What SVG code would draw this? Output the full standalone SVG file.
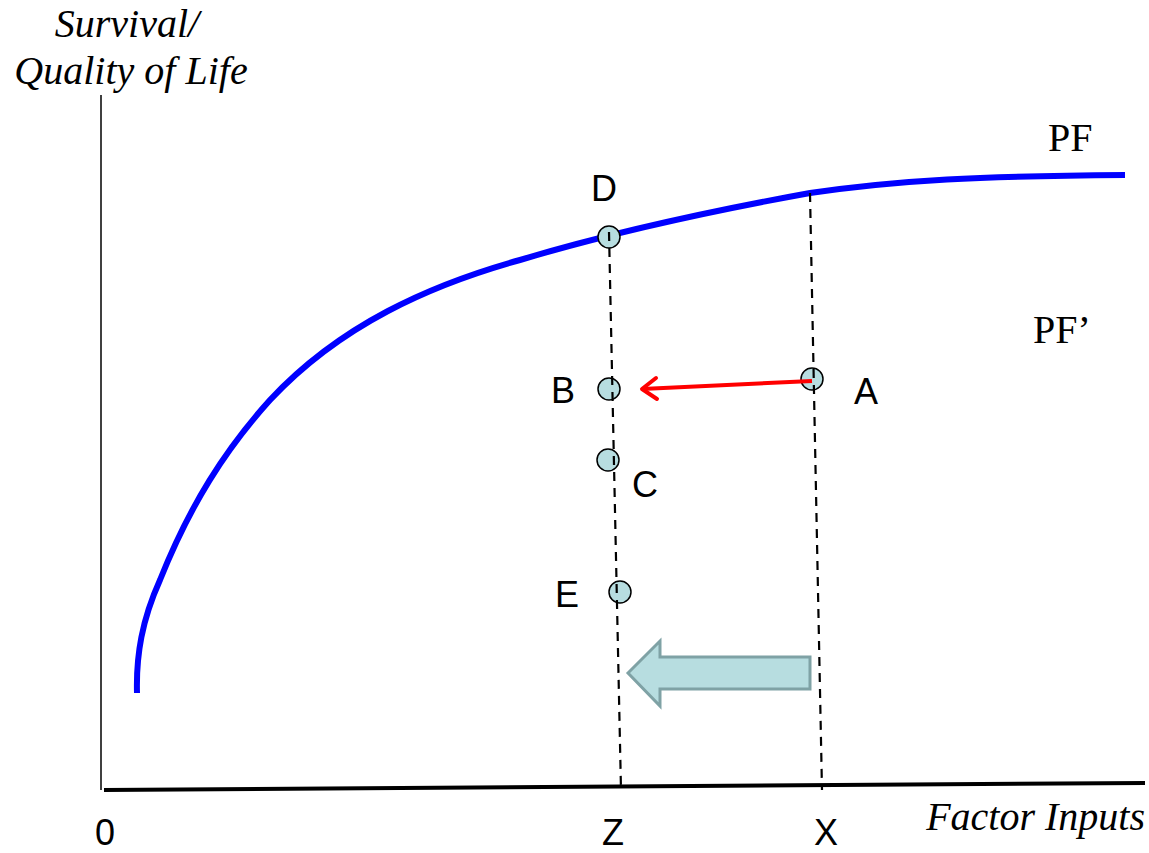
<svg xmlns="http://www.w3.org/2000/svg" width="1149" height="853" viewBox="0 0 1149 853">
<style>
.lbl{font-family:"Liberation Sans",Arial,sans-serif;font-size:36px;fill:#000}
.ser{font-family:"Liberation Serif","Times New Roman",serif;font-size:40px;fill:#000}
.it{font-family:"Liberation Serif","Times New Roman",serif;font-style:italic;font-size:40px;fill:#000}
.dash{stroke:#000;stroke-width:2.2;stroke-dasharray:9,7;fill:none}
.pt{fill:#b7dde0;stroke:#000;stroke-width:1.5}
</style>
<rect width="1149" height="853" fill="#fff"/>
<g id="axes">
<line x1="101" y1="95" x2="101" y2="790" stroke="#000" stroke-width="1.5"/>
<line x1="104" y1="790" x2="1145" y2="783" stroke="#000" stroke-width="4"/>
</g>
<g id="curve">
<path d="M137,693 C136,655 142,620 160,580 C190,505 225,450 270,400 C340,325 430,285 520,260 C600,236 700,213 810,193 C900,180 980,176 1125,175" fill="none" stroke="#0000ff" stroke-width="6"/>
</g>
<g id="D"><circle class="pt" cx="609" cy="237" r="11"/><text class="lbl" x="604" y="201" text-anchor="middle">D</text></g>
<g id="B"><circle class="pt" cx="609" cy="389" r="11"/><text class="lbl" x="563" y="403" text-anchor="middle">B</text></g>
<g id="C"><circle class="pt" cx="608" cy="460" r="11"/><text class="lbl" x="645" y="497" text-anchor="middle">C</text></g>
<g id="E"><circle class="pt" cx="620" cy="592" r="11"/><text class="lbl" x="567" y="607" text-anchor="middle">E</text></g>
<g id="A"><circle class="pt" cx="812" cy="379" r="11"/><text class="lbl" x="866" y="404" text-anchor="middle">A</text></g>
<g id="connectors">
<line class="dash" x1="609" y1="232" x2="621" y2="790"/>
<line class="dash" x1="810" y1="193" x2="822" y2="790"/>
<line x1="812" y1="381" x2="642" y2="389" stroke="#ff0000" stroke-width="4"/>
<polyline points="656,378 642,389 657,399" fill="none" stroke="#ff0000" stroke-width="4" stroke-linecap="round" stroke-linejoin="round"/>
<polygon points="628,673 660,641 660,657 810,657 810,689 660,689 660,706" fill="#b7dde0" stroke="#7fa2a5" stroke-width="3"/>
</g>
<g id="labels">
<text class="ser" x="1048" y="151">PF</text>
<text class="ser" x="1033" y="343">PF’</text>
<text class="it" x="127" y="37" text-anchor="middle">Survival/</text>
<text class="it" x="131" y="84" text-anchor="middle">Quality of Life</text>
<text class="it" x="1145" y="830" text-anchor="end">Factor Inputs</text>
<text class="lbl" x="105" y="845" text-anchor="middle">0</text>
<text class="lbl" x="613" y="845" text-anchor="middle">Z</text>
<text class="lbl" x="826" y="845" text-anchor="middle">X</text>
</g>
</svg>
